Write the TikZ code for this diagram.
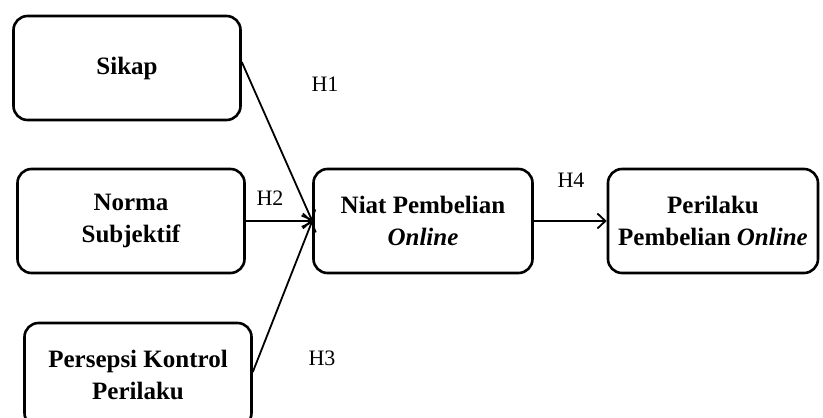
\documentclass[tikz,border=0pt]{standalone}
\usepackage{fontspec}
\setmainfont{Liberation Serif}
\usetikzlibrary{arrows.meta, positioning}

\begin{document}
\begin{tikzpicture}[x=1pt, y=-1pt,
    varbox/.style={draw, line width=2.6pt, rounded corners=14pt, align=center,
        minimum width=227pt, minimum height=104pt, inner sep=0pt,
        font=\fontsize{25}{32}\selectfont\bfseries},
    hlabel/.style={font=\fontsize{22}{26}\selectfont},
    link/.style={line width=1.8pt, -{Straight Barb[length=8pt, width=15pt, line width=1.8pt]}}]
    \useasboundingbox (0,0) rectangle (823,418);
    \node[varbox](sikap) at (127,68){Sikap};
    \node[varbox](norma) at (131,221){Norma\\Subjektif};
    \node[varbox](kontrol) at (138,375){Persepsi Kontrol\\Perilaku};
    \node[varbox, minimum width=219pt](niat) at (423,221){Niat Pembelian\\\textit{Online}};
    \node[varbox, minimum width=210pt](perilaku) at (713,221){Perilaku\\Pembelian \textit{Online}};
    \coordinate(h1) at (sikap.east |- 0,62);
    \coordinate(h3) at (kontrol.east |- 0,372);
    \draw[link] (h1) -- (niat.west);
    \draw[link] (norma.east) -- (niat.west);
    \draw[link] (h3) -- (niat.west);
    \draw[link] (niat.east) -- (perilaku.west);
    \node[hlabel](lh1) at (325,84){H1};
    \node[hlabel](lh2) at (270,198){H2};
    \node[hlabel](lh3) at (322,358){H3};
    \node[hlabel](lh4) at (571,180){H4};
\end{tikzpicture}
\end{document}
